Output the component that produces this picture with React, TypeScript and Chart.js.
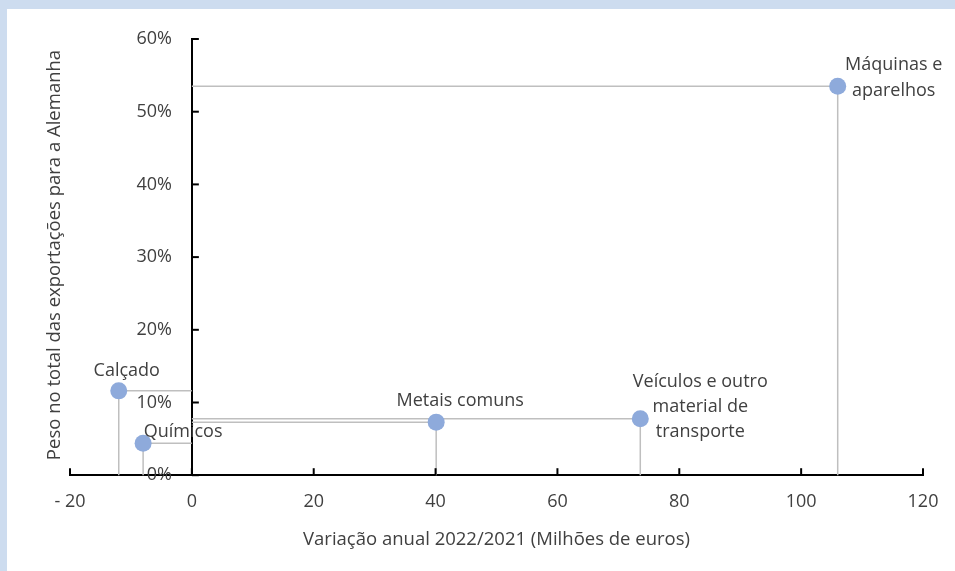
import React, { useEffect, useRef } from "react";
import { Chart, registerables } from "chart.js";

Chart.register(...registerables);

// ---- Data ----
const categories = [
  "Máquinas e aparelhos",
  "Veículos e outro material de transporte",
  "Metais comuns",
  "Calçado",
  "Químicos",
];
const labelLines = [
  ["Máquinas e", "aparelhos"],
  ["Veículos e outro", "material de", "transporte"],
  ["Metais comuns"],
  ["Calçado"],
  ["Químicos"],
];
const annualChange = [106.0, 73.6, 40.1, -12.0, -8.0]; // Milhões de euros
const shareOfExports = [53.5, 7.75, 7.3, 11.6, 4.4]; // %
const xTickValues = [-20, 0, 20, 40, 60, 80, 100, 120];
const yTickValues = [0, 10, 20, 30, 40, 50, 60];
const xTitle = "Variação anual 2022/2021 (Milhões de euros)";
const yTitle = "Peso no total das exportações para a Alemanha";

// ---- Styles ----
const FONT = "'Open Sans', 'Noto Sans', sans-serif";
const FONT_SIZE = 18;
const TITLE_SIZE = 18.5;
const TEXT_COLOR = "#404040";
const POINT_COLOR = "#8eaadb";
const DROP_COLOR = "#bfbfbf";
// label offsets from point (dx, dy of first line centre), line height
const labelOffsets = [
  [56, -21],
  [60, -37],
  [24, -21],
  [8, -20],
  [40, -11],
];
const lineHeights = [26, 25, 25, 25, 25];
const Y_LABEL_GAP = 20;

const overlayPlugin = {
  id: "overlay",
  beforeDatasetsDraw(chart: any) {
    const { ctx, scales } = chart;
    const xs = scales.x;
    const ys = scales.y;
    const x0 = xs.getPixelForValue(0);
    const y0 = ys.getPixelForValue(0);
    ctx.save();
    ctx.strokeStyle = DROP_COLOR;
    ctx.lineWidth = 1.5;
    annualChange.forEach((xv, i) => {
      const px = xs.getPixelForValue(xv);
      const py = ys.getPixelForValue(shareOfExports[i]);
      ctx.beginPath();
      ctx.moveTo(px, py);
      ctx.lineTo(x0, py);
      ctx.moveTo(px, py);
      ctx.lineTo(px, y0);
      ctx.stroke();
    });
    ctx.restore();
  },
  afterDatasetsDraw(chart: any) {
    const { ctx, scales } = chart;
    const xs = scales.x;
    const ys = scales.y;
    const x0 = xs.getPixelForValue(0);
    const y0 = ys.getPixelForValue(0);
    ctx.save();
    // inside tick marks
    ctx.strokeStyle = "#000";
    ctx.lineWidth = 2;
    yTickValues.forEach((v) => {
      const py = ys.getPixelForValue(v);
      ctx.beginPath();
      ctx.moveTo(x0, py);
      ctx.lineTo(x0 + 7, py);
      ctx.stroke();
    });
    xTickValues.forEach((v) => {
      const px = xs.getPixelForValue(v);
      ctx.beginPath();
      ctx.moveTo(px, y0);
      ctx.lineTo(px, y0 - 7);
      ctx.stroke();
    });
    ctx.fillStyle = TEXT_COLOR;
    ctx.font = `${FONT_SIZE}px ${FONT}`;
    // y tick labels (left of the axis crossing at x = 0)
    ctx.textAlign = "right";
    ctx.textBaseline = "middle";
    ys.ticks.forEach((t: any) => {
      ctx.fillText(`${t.value}%`, x0 - Y_LABEL_GAP, ys.getPixelForValue(t.value));
    });
    // data labels
    ctx.textAlign = "center";
    annualChange.forEach((xv, i) => {
      const px = xs.getPixelForValue(xv);
      const py = ys.getPixelForValue(shareOfExports[i]);
      const [dx, dy] = labelOffsets[i];
      labelLines[i].forEach((line, j) => {
        ctx.fillText(line, px + dx, py + dy + j * lineHeights[i]);
      });
    });
    // y title
    ctx.font = `${TITLE_SIZE}px ${FONT}`;
    ctx.translate(48, 246);
    ctx.rotate(-Math.PI / 2);
    ctx.fillText(yTitle, 0, 0);
    ctx.restore();
  },
};

export default function App() {
  const canvasRef = useRef<HTMLCanvasElement | null>(null);

  useEffect(() => {
    document.body.style.margin = "0";
    const canvas = canvasRef.current;
    if (!canvas) return;
    const chart = new Chart(canvas, {
      type: "scatter",
      data: {
        datasets: [
          {
            label: "Exportações",
            data: annualChange.map((x, i) => ({ x, y: shareOfExports[i] })),
            backgroundColor: POINT_COLOR,
            borderColor: POINT_COLOR,
            pointRadius: 8.5,
            pointHoverRadius: 8.5,
            borderWidth: 0,
          },
        ],
      },
      options: {
        animation: false,
        responsive: false,
        maintainAspectRatio: false,
        events: [],
        layout: { padding: { left: 63, right: 32, top: 30, bottom: 20 } },
        plugins: {
          legend: { display: false },
          tooltip: { enabled: false },
        },
        scales: {
          x: {
            type: "linear",
            min: -20,
            max: 120,
            position: "bottom",
            afterBuildTicks: (axis: any) => {
              axis.ticks = xTickValues.map((value) => ({ value }));
            },
            grid: { display: false, drawTicks: false },
            border: { display: true, color: "#000", width: 2 },
            ticks: {
              padding: 16,
              color: TEXT_COLOR,
              font: { family: FONT, size: FONT_SIZE },
              callback: (v: any) => (v < 0 ? `- ${Math.abs(v)}` : `${v}`),
            },
            title: {
              display: true,
              text: xTitle,
              color: TEXT_COLOR,
              font: { family: FONT, size: TITLE_SIZE },
              padding: { top: 0, bottom: 0 },
            },
          },
          y: {
            type: "linear",
            min: 0,
            max: 60,
            position: { x: 0 } as any,
            afterBuildTicks: (axis: any) => {
              axis.ticks = yTickValues.map((value) => ({ value }));
            },
            grid: { display: false, drawTicks: false },
            border: { display: true, color: "#000", width: 2 },
            ticks: {
              display: false,
              font: { family: FONT, size: FONT_SIZE },
            },
          },
        },
      },
      plugins: [overlayPlugin],
    });
    return () => chart.destroy();
  }, []);

  return (
    <div style={{ position: "fixed", inset: 0, background: "#cddcef" }}>
      <div
        style={{
          position: "absolute",
          left: 7,
          top: 9,
          right: 0,
          bottom: 0,
          background: "#ffffff",
        }}
      >
        <canvas
          ref={canvasRef}
          width={948}
          height={562}
          style={{ display: "block", width: 948, height: 562 }}
        />
      </div>
    </div>
  );
}
